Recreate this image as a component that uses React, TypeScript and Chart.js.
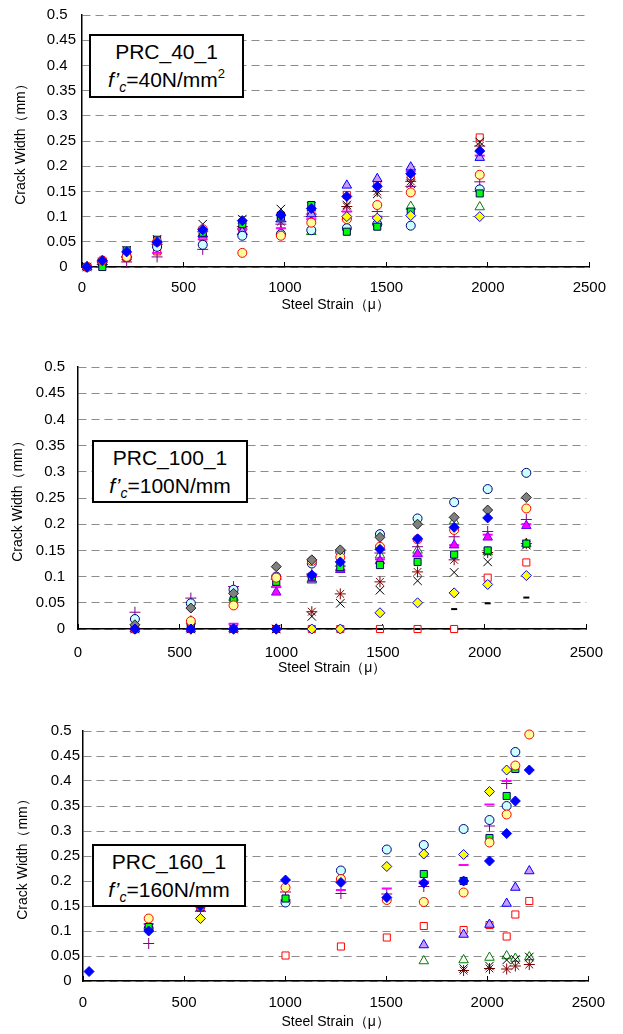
import React, { useEffect, useRef } from 'react';
import { Chart, registerables } from 'chart.js';
Chart.register(...registerables);

// ---------- PRC_40_1 ----------
const strain40 = [25, 100, 220, 370, 595, 790, 980, 1130, 1305, 1455, 1620, 1960];
const lc40 = [0, 0.01, 0.02, 0.04, 0.044, 0.062, 0.065, 0.073, 0.077, 0.085, 0.082, 0.154];
const yc40 = [0, 0.013, 0.02, 0.05, 0.075, 0.028, 0.062, 0.088, 0.095, 0.123, 0.148, 0.183];
const rs40 = [0, 0.01, 0.018, 0.031, 0.06, 0.07, 0.102, 0.11, 0.143, 0.165, 0.18, 0.257];
const gs40 = [0, 0, 0.033, 0.054, 0.068, 0.085, 0.1, 0.123, 0.07, 0.08, 0.11, 0.146];
const yd40 = [null, null, null, null, null, null, null, null, 0.1, 0.097, 0.102, 0.1];
const bd40 = [0, 0.013, 0.03, 0.049, 0.074, 0.092, 0.103, 0.116, 0.14, 0.16, 0.185, 0.23];
const pt40 = [0, 0.01, 0.02, 0.045, 0.065, 0.07, 0.095, 0.105, 0.162, 0.175, 0.198, 0.217];
const gt40 = [0, 0.005, 0.025, 0.045, 0.065, 0.08, 0.07, 0.07, 0.1, 0.09, 0.12, 0.119];
const bx40 = [0, 0.01, 0.033, 0.055, 0.085, 0.095, 0.115, 0.12, 0.123, 0.145, 0.165, 0.248];
const ra40 = [0, 0.01, 0.02, 0.045, 0.07, 0.08, 0.09, 0.1, 0.12, 0.15, 0.17, 0.24];
const pp40 = [0, 0.005, 0.01, 0.02, 0.035, 0.065, 0.085, 0.105, 0.11, 0.11, 0.16, 0.169];
const md40 = [0, 0.01, 0.02, 0.028, 0.055, 0.075, 0.077, 0.095, 0.11, 0.1, 0.19, 0.221];

// ---------- PRC_100_1 ----------
const strain100 = [280, 555, 765, 975, 1150, 1290, 1485, 1670, 1850, 2015, 2205];
const lc100 = [0.019, 0.049, 0.075, 0.1, 0.125, 0.147, 0.181, 0.211, 0.242, 0.267, 0.298];
const yc100 = [0, 0.015, 0.045, 0.098, 0.13, 0.137, 0.157, 0.171, 0.189, null, 0.23];
const rs100 = [0, 0, 0, 0, 0, 0, 0, 0, 0, 0.098, 0.127];
const gs100 = [0, 0.01, 0.055, 0.09, 0.1, 0.118, 0.122, 0.128, 0.142, 0.15, 0.163];
const yd100 = [0, 0, 0, 0, 0, 0, 0.031, 0.05, 0.069, 0.085, 0.102];
const bd100 = [0, 0, 0, 0, 0.103, 0.128, 0.152, 0.172, 0.194, 0.212, null];
const gd100 = [0.008, 0.04, 0.068, 0.119, 0.132, 0.151, 0.175, 0.2, 0.213, 0.227, 0.251];
const mt100 = [0, 0, 0, 0.07, 0.095, 0.113, 0.13, 0.143, 0.16, 0.175, 0.197];
const gt100 = [0, 0.015, 0.06, 0.085, 0.093, 0.116, 0.141, 0.15, 0.206, 0.147, 0.163];
const bx100 = [0, 0, 0, 0, 0.024, 0.049, 0.074, 0.092, 0.108, 0.128, 0.16];
const ra100 = [0, 0, 0, 0, 0.033, 0.067, 0.09, 0.109, 0.132, 0.146, 0.163];
const pp100 = [0.032, 0.059, 0.081, 0.095, 0.105, 0.12, 0.145, 0.157, 0.176, 0.186, 0.209];
const md100 = [0, 0, 0.01, 0.08, 0.1, 0.113, 0.133, 0.14, 0.16, 0.18, 0.2];
const kd100 = [0, 0, 0, 0, 0, 0, 0, 0, 0.038, 0.049, 0.06];

// ---------- PRC_160_1 ----------
const strain160 = [30, 325, 581, 1002, 1276, 1503, 1686, 1883, 2011, 2096, 2139, 2208];
const lc160 = [null, 0.105, 0.15, 0.157, 0.221, 0.263, 0.272, 0.304, 0.322, 0.35, 0.458, null];
const yc160 = [null, 0.125, 0.15, 0.187, 0.204, 0.162, 0.158, 0.177, 0.277, 0.333, 0.431, 0.493];
const rs160 = [null, null, null, 0.051, 0.069, 0.087, 0.11, 0.102, 0.112, 0.089, 0.133, 0.16];
const gs160 = [null, 0.108, 0.147, 0.165, null, null, 0.214, 0.2, 0.286, 0.37, 0.424, null];
const yd160 = [null, null, 0.125, null, null, 0.229, 0.254, 0.253, 0.379, 0.422, null, null];
const bd160 = [0.019, 0.1, 0.15, 0.202, 0.197, 0.167, 0.196, 0.2, 0.24, 0.295, 0.36, 0.422];
const pt160 = [null, null, null, null, null, null, 0.072, 0.093, 0.113, 0.155, 0.187, 0.22];
const gt160 = [null, null, null, null, null, null, 0.04, 0.042, 0.047, 0.05, 0.045, 0.048];
const bx160 = [null, null, null, null, null, null, null, 0.025, 0.03, 0.042, 0.043, 0.048];
const ra160 = [null, null, null, null, null, null, null, 0.021, 0.025, 0.024, 0.03, 0.033];
const pp160 = [null, 0.075, 0.139, 0.178, 0.175, 0.174, 0.189, null, 0.31, 0.395, null, null];
const md160 = [null, 0.114, 0.14, 0.162, 0.182, 0.185, 0.199, 0.232, 0.353, 0.4, null, null];

const FONT = "'Liberation Sans', Arial, sans-serif";

const STYLES: Record<string, any> = {
  bd: { s: 'rectRot', r: 5, bg: '#0000FF', bc: '#0000FF', w: 1 },
  yd: { s: 'rectRot', r: 5, bg: '#FFFF00', bc: '#0000FF', w: 1 },
  gd: { s: 'rectRot', r: 5, bg: '#808080', bc: '#202020', w: 1 },
  yc: { s: 'circle', r: 4.5, bg: '#FFFF99', bc: '#FF0000', w: 1 },
  gs: { s: 'rect', r: 5, bg: '#00FF00', bc: '#000066', w: 1 },
  lc: { s: 'circle', r: 4.5, bg: '#CCFFFF', bc: '#000080', w: 1 },
  mt: { s: 'triangle', r: 5.5, bg: '#FF00FF', bc: '#6600FF', w: 1 },
  pt: { s: 'triangle', r: 5.5, bg: '#CC99FF', bc: '#0000FF', w: 1 },
  md: { s: 'line', r: 5, bg: '#FF00FF', bc: '#FF00FF', w: 2 },
  pp: { s: 'cross', r: 5.5, bg: '#800080', bc: '#800080', w: 1 },
  kd: { s: 'line', r: 3, bg: '#000000', bc: '#000000', w: 2 },
  bx: { s: 'crossRot', r: 6, bg: '#000000', bc: '#000000', w: 1 },
  ra: { s: 'star', r: 5.5, bg: '#800000', bc: '#800000', w: 1 },
  gt: { s: 'triangle', r: 5.5, bg: '#FFFFFF', bc: '#008000', w: 1 },
  rs: { s: 'rect', r: 5, bg: '#FFFFFF', bc: '#FF0000', w: 1 },
};
const ORDER = ['bd', 'yd', 'gd', 'yc', 'gs', 'lc', 'mt', 'pt', 'md', 'pp', 'kd', 'bx', 'ra', 'gt', 'rs'];

type PanelProps = {
  top: number; height: number;
  plotLeft: number; plotRight: number; plotTop: number; plotBottom: number;
  strain: number[]; series: Record<string, (number | null)[]>;
  yTickPad: number; yTrail: boolean; yTitlePad: number; xTickPad: number; xTitlePad: number;
};

function Panel(p: PanelProps) {
  const ref = useRef<HTMLCanvasElement>(null);
  useEffect(() => {
    const canvas = ref.current!;
    const datasets = ORDER.filter((k) => p.series[k]).map((k) => {
      const st = STYLES[k];
      const vals = p.series[k];
      const data: any[] = [];
      p.strain.forEach((x, i) => {
        const v = vals[i];
        if (v !== null && v !== undefined) data.push({ x, y: v });
      });
      return {
        label: k, data, showLine: false, clip: false,
        pointStyle: st.s, pointRadius: st.r, pointHoverRadius: st.r,
        pointBackgroundColor: st.bg, pointBorderColor: st.bc, pointBorderWidth: st.w,
        backgroundColor: st.bg, borderColor: st.bc,
      };
    });
    const fmt = (v: number) => {
      const r = Math.round(v * 100) / 100;
      const s = String(r);
      const dec = s.includes('.') ? s.split('.')[1].length : 0;
      return p.yTrail && dec < 2 ? s + '  ' : s;
    };
    const chart = new Chart(canvas, {
      type: 'scatter',
      data: { datasets } as any,
      options: {
        responsive: false,
        animation: false,
        events: [],
        layout: { padding: { left: 0, top: p.plotTop - p.top, right: 623 - p.plotRight, bottom: 0 } },
        plugins: { legend: { display: false }, tooltip: { enabled: false } },
        scales: {
          x: {
            type: 'linear', position: 'bottom', min: 0, max: 2500,
            ticks: {
              stepSize: 500, font: { family: FONT, size: 15 }, color: '#000', padding: p.xTickPad,
              maxRotation: 0, autoSkip: false, callback: (v: any) => String(Math.round(Number(v))),
            },
            grid: { display: true, drawOnChartArea: false, drawTicks: true, tickLength: -5, color: '#000', lineWidth: 1 },
            border: { display: true, color: '#000', width: 1.5 },
            title: { display: true, text: 'Steel Strain（μ）', font: { family: FONT, size: 14 }, color: '#000', padding: { top: 0, bottom: p.xTitlePad } },
            afterFit: (s: any) => { s.height = p.top + p.height - p.plotBottom; },
          },
          y: {
            type: 'linear', min: 0, max: 0.5,
            ticks: { stepSize: 0.05, font: { family: FONT, size: 15 }, color: '#000', padding: p.yTickPad, crossAlign: 'near', callback: (v: any) => fmt(Number(v)) },
            grid: { color: '#8c8c8c', lineWidth: 1, drawTicks: false },
            border: { display: true, color: '#000', width: 1.5, dash: [8, 5] },
            title: { display: true, text: 'Crack Width（mm）', font: { family: FONT, size: 14 }, color: '#000', padding: { top: p.yTitlePad, bottom: 0 } },
            afterFit: (s: any) => { s.width = p.plotLeft; },
          },
        },
      } as any,
    });
    return () => chart.destroy();
  }, []);
  return (
    <canvas
      ref={ref}
      width={623}
      height={p.height}
      style={{ position: 'absolute', left: 0, top: p.top, width: 623, height: p.height }}
    />
  );
}

function Box(props: { left: number; top: number; width: number; height: number; name: string; fc: string; sq: boolean }) {
  return (
    <div
      style={{
        position: 'absolute', left: props.left, top: props.top, width: props.width, height: props.height,
        boxSizing: 'border-box', border: '2px solid #000', background: '#fff', fontFamily: FONT,
        color: '#000', textAlign: 'center', fontSize: 21,
      }}
    >
      <div style={{ position: 'absolute', left: 0, right: 0, top: 4, lineHeight: '24px' }}>{props.name}</div>
      <div style={{ position: 'absolute', left: 0, right: 0, top: 32, lineHeight: '24px', whiteSpace: 'nowrap' }}>
        <i>f’</i>
        <i style={{ fontSize: 14, position: 'relative', top: 5 }}>c</i>
        ={props.fc}N/mm
        {props.sq ? <span style={{ fontSize: 13, position: 'relative', top: -9 }}>2</span> : null}
      </div>
    </div>
  );
}

export default function App() {
  return (
    <div style={{ position: 'absolute', left: 0, top: 0, width: 623, height: 1034, background: '#fff' }}>
      <Panel
        top={0} height={320} plotLeft={82} plotRight={593} plotTop={14} plotBottom={267}
        strain={strain40}
        series={{ lc: lc40, yc: yc40, rs: rs40, gs: gs40, yd: yd40, bd: bd40, pt: pt40, gt: gt40, bx: bx40, ra: ra40, pp: pp40, md: md40 }}
        yTickPad={6} yTrail={true} yTitlePad={13} xTickPad={17} xTitlePad={6}
      />
      <Panel
        top={330} height={350} plotLeft={78} plotRight={597} plotTop={367} plotBottom={629}
        strain={strain100}
        series={{ lc: lc100, yc: yc100, rs: rs100, gs: gs100, yd: yd100, bd: bd100, gd: gd100, mt: mt100, gt: gt100, bx: bx100, ra: ra100, pp: pp100, md: md100, kd: kd100 }}
        yTickPad={13} yTrail={false} yTitlePad={10} xTickPad={20} xTitlePad={3}
      />
      <Panel
        top={680} height={354} plotLeft={83} plotRight={591} plotTop={731} plotBottom={981}
        strain={strain160}
        series={{ lc: lc160, yc: yc160, rs: rs160, gs: gs160, yd: yd160, bd: bd160, pt: pt160, gt: gt160, bx: bx160, ra: ra160, pp: pp160, md: md160 }}
        yTickPad={3} yTrail={true} yTitlePad={15} xTickPad={18} xTitlePad={3}
      />
      <Box left={89} top={34} width={155} height={64} name="PRC_40_1" fc="40" sq={true} />
      <Box left={92} top={440} width={156} height={63} name="PRC_100_1" fc="100" sq={false} />
      <Box left={92} top={844} width={154} height={63} name="PRC_160_1" fc="160" sq={false} />
    </div>
  );
}
